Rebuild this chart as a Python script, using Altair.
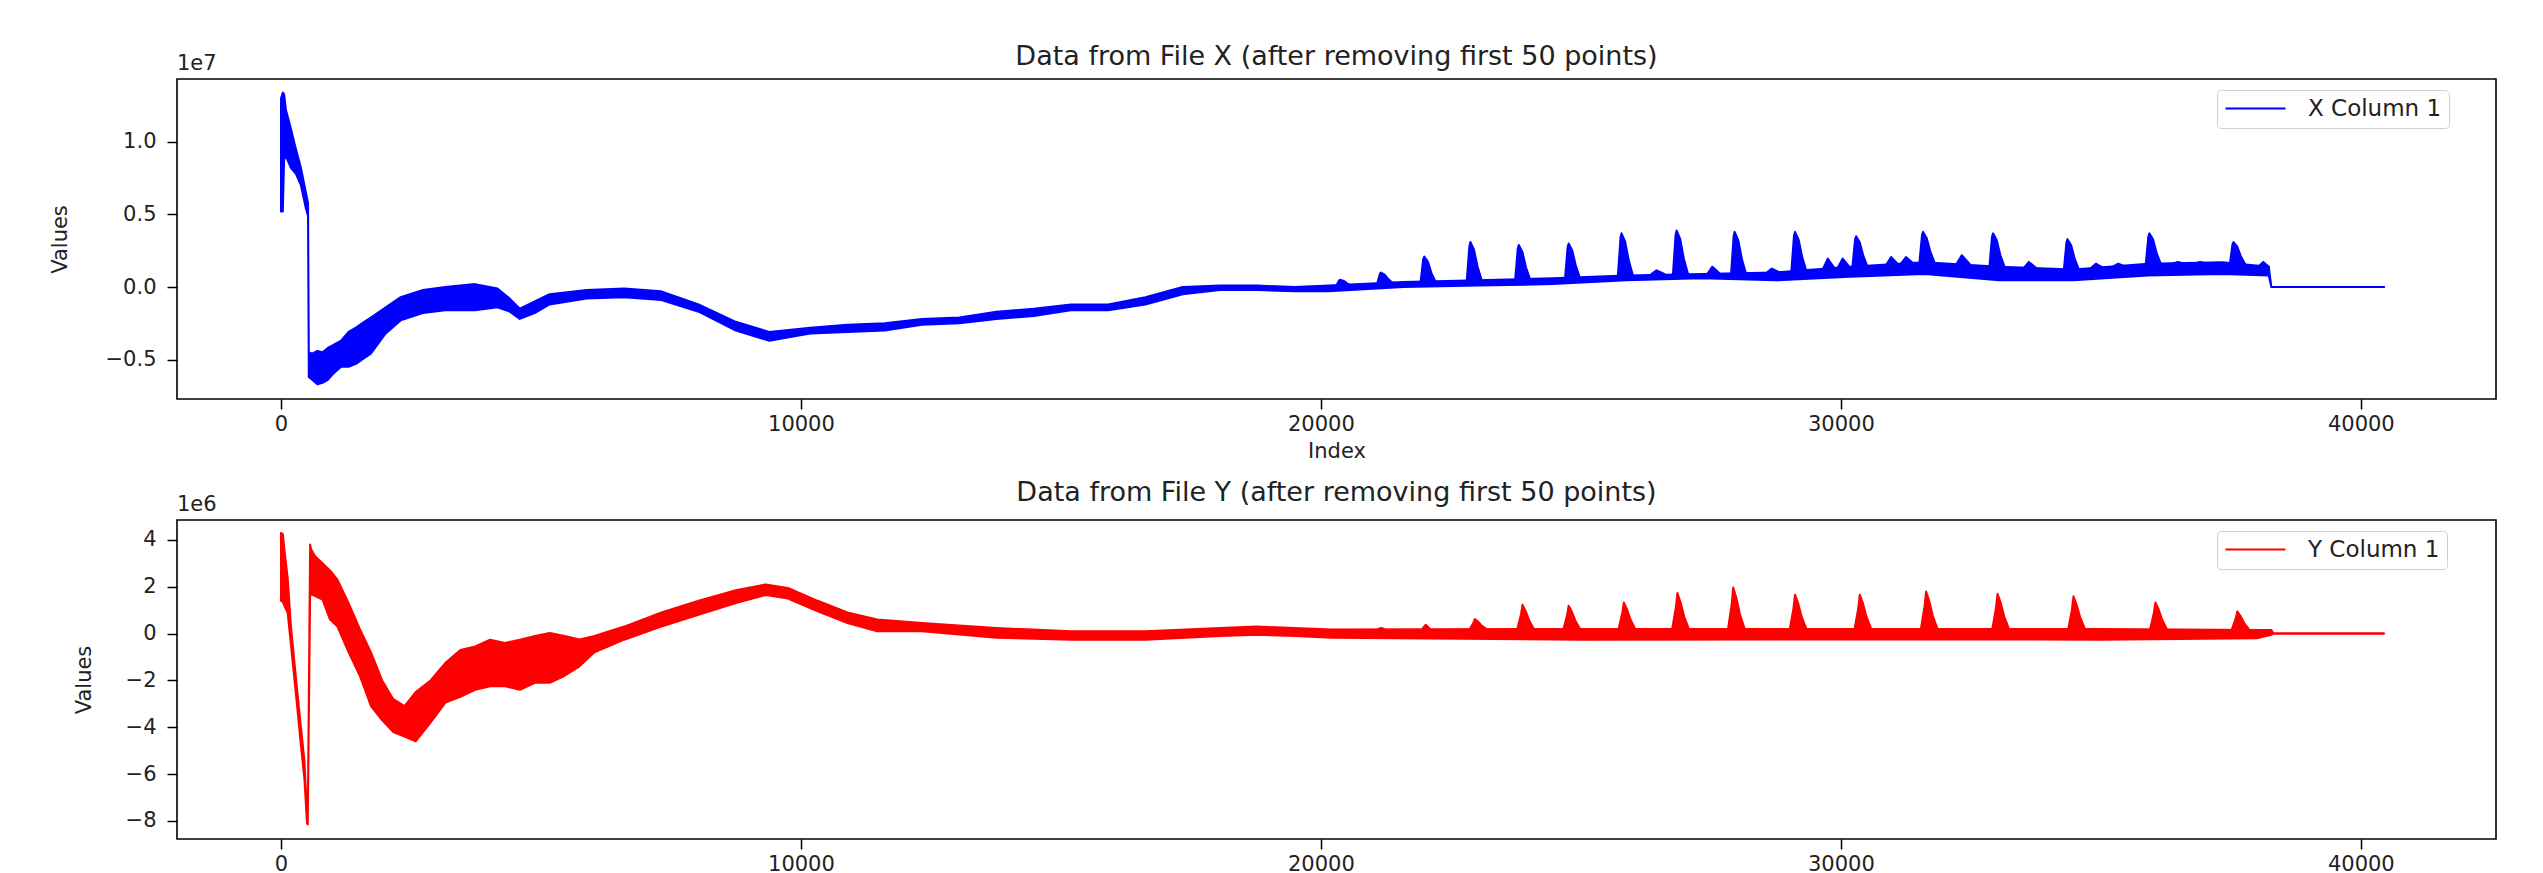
import altair as alt
import pandas as pd

FONT = "DejaVu Sans"

# ---------------- File X (values in units of 1e7) ----------------
X_IDX = [0, 35, 60, 96, 192, 288, 384, 480, 520, 535, 600, 700, 800, 900, 1000, 1155, 1300, 1441,
         1600, 1728, 2014, 2301, 2730, 3160, 3733, 4163, 4400, 4593, 4879, 5165, 5881, 6599, 7315,
         8031, 8747, 9391, 10179, 10894, 11612, 12328, 13044, 13760, 14476, 15192, 15908, 16624,
         17342, 18058, 18772, 19489, 20154, 21586, 23018, 24450, 25882, 27314, 28746, 30178, 31610,
         33042, 34474, 35906, 37338, 38230, 38280, 40450]
X_HI = [1.30, 1.34, 1.33, 1.22, 1.09, 0.95, 0.82, 0.65, 0.58, -0.45, -0.46, -0.44, -0.45, -0.42,
        -0.40, -0.37, -0.31, -0.28, -0.24, -0.21, -0.14, -0.07, -0.02, 0.00, 0.02, -0.01, -0.08,
        -0.15, -0.10, -0.05, -0.02, -0.01, -0.03, -0.12, -0.24, -0.31, -0.28, -0.26, -0.25, -0.22,
        -0.21, -0.17, -0.15, -0.12, -0.12, -0.07, 0.00, 0.01, 0.01, 0.00, 0.01, 0.035, 0.046, 0.06,
        0.08, 0.09, 0.10, 0.14, 0.17, 0.14, 0.12, 0.16, 0.17, 0.14, 0.0, 0.0]
X_LO = [0.52, 0.52, 0.88, 0.90, 0.82, 0.78, 0.70, 0.54, 0.49, -0.62, -0.64, -0.67, -0.66, -0.64,
        -0.60, -0.55, -0.55, -0.53, -0.49, -0.46, -0.32, -0.23, -0.18, -0.16, -0.16, -0.14, -0.17,
        -0.22, -0.18, -0.12, -0.08, -0.07, -0.09, -0.17, -0.30, -0.37, -0.32, -0.31, -0.30, -0.26,
        -0.25, -0.22, -0.20, -0.16, -0.16, -0.12, -0.05, -0.02, -0.02, -0.03, -0.03, 0.0, 0.01, 0.02,
        0.046, 0.06, 0.046, 0.07, 0.09, 0.046, 0.046, 0.08, 0.09, 0.08, 0.0, 0.0]

# periodic peaks of X: (index, value) points of each peak
X_SPIKES = [
    [(20299, .01), (20349, .046), (20369, .05), (20439, .042), (20509, .024), (20589, .01)],
    [(21086, .03), (21136, .093), (21156, .10), (21226, .086), (21296, .055), (21376, .03)],
    [(21917, .035), (21967, .19), (21987, .21), (22057, .175), (22127, .096), (22207, .035)],
    [(22805, .045), (22855, .28), (22875, .31), (22945, .257), (23015, .138), (23095, .045)],
    [(23736, .05), (23786, .266), (23806, .29), (23876, .242), (23946, .134), (24026, .05)],
    [(24695, .06), (24745, .276), (24765, .30), (24835, .252), (24905, .144), (24985, .06)],
    [(25712, .08), (25762, .341), (25782, .37), (25852, .312), (25922, .182), (26002, .08)],
    [(26771, .09), (26821, .36), (26841, .39), (26911, .33), (26981, .195), (27061, .09)],
    [(27888, .09), (27938, .351), (27958, .38), (28028, .322), (28098, .192), (28178, .09)],
    [(29048, .11), (29098, .353), (29118, .38), (29188, .326), (29258, .205), (29338, .11)],
    [(30223, .14), (30273, .329), (30293, .35), (30363, .308), (30433, .214), (30513, .14)],
    [(31511, .17), (31561, .359), (31581, .38), (31651, .338), (31721, .244), (31801, .17)],
    [(32857, .14), (32907, .347), (32927, .37), (32997, .324), (33067, .22), (33147, .14)],
    [(34289, .12), (34339, .309), (34359, .33), (34429, .288), (34499, .194), (34579, .12)],
    [(35864, .16), (35914, .349), (35934, .37), (36004, .328), (36074, .234), (36154, .16)],
    [(37482, .16), (37532, .295), (37552, .31), (37622, .28), (37692, .213), (37772, .16)],
    [(26355, 0.09), (26455, 0.115), (26605, 0.09)],
    [(27429, 0.09), (27529, 0.14), (27679, 0.09)],
    [(28574, 0.10), (28674, 0.127), (28824, 0.10)],
    [(29648, 0.12), (29748, 0.196), (29898, 0.12)],
    [(29935, 0.13), (30035, 0.196), (30185, 0.13)],
    [(30866, 0.15), (30966, 0.207), (31116, 0.15)],
    [(31152, 0.16), (31252, 0.207), (31402, 0.16)],
    [(32226, 0.16), (32326, 0.219), (32476, 0.16)],
    [(33515, 0.13), (33615, 0.173), (33765, 0.13)],
    [(34804, 0.13), (34904, 0.161), (35054, 0.13)],
    [(35233, 0.14), (35333, 0.161), (35483, 0.14)],
    [(36379, 0.16), (36479, 0.173), (36629, 0.16)],
    [(36808, 0.16), (36908, 0.173), (37058, 0.16)],
    [(38025, 0.14), (38125, 0.173), (38230, 0.14)],
]
X_TAIL_IDX = [38280, 40450]
X_TAIL_VAL = [0.0, 0.0]

# ---------------- File Y (values in units of 1e6) ----------------
Y_IDX = [0, 35, 80, 128, 192, 288, 384, 450, 500, 515, 560, 580, 656, 799, 943, 1086, 1301, 1516,
         1731, 1946, 2161, 2375, 2590, 2876, 3163, 3449, 3736, 4022, 4309, 4595, 4882, 5168, 5455,
         5741, 6028, 6600, 7316, 8032, 8748, 9321, 9750, 10322, 10895, 11468, 12328, 13760, 15192,
         16624, 18058, 18772, 19489, 20205, 25000, 30000, 35000, 38000, 38280, 38320, 40450]
Y_HI = [4.30, 4.25, 3.30, 2.40, 0.30, -1.90, -4.00, -5.40, -7.60, -7.80, 3.80, 3.60, 3.30, 3.00,
        2.70, 2.30, 1.30, 0.20, -0.80, -2.00, -2.80, -3.10, -2.50, -2.00, -1.25, -0.70, -0.55,
        -0.26, -0.40, -0.26, -0.10, 0.03, -0.10, -0.25, -0.10, 0.30, 0.90, 1.40, 1.85, 2.10, 1.95,
        1.40, 0.90, 0.60, 0.45, 0.24, 0.10, 0.10, 0.24, 0.30, 0.24, 0.17, 0.20, 0.20, 0.20, 0.15,
        0.15, 0.0, 0.0]
Y_LO = [1.40, 1.35, 1.10, 0.90, -0.50, -2.60, -4.80, -6.20, -8.10, -8.15, 1.60, 1.70, 1.60, 1.45,
        0.60, 0.30, -0.80, -1.80, -3.10, -3.70, -4.20, -4.40, -4.60, -3.80, -2.95, -2.70, -2.40,
        -2.25, -2.25, -2.40, -2.10, -2.10, -1.80, -1.40, -0.80, -0.26, 0.30, 0.80, 1.30, 1.65, 1.50,
        0.95, 0.45, 0.10, 0.10, -0.18, -0.26, -0.26, -0.10, -0.05, -0.10, -0.18, -0.26, -0.25,
        -0.26, -0.20, -0.05, 0.0, 0.0]

Y_SPIKES = [
    [(21100, 0.2), (21156, 0.24), (21220, 0.2)],
    [(21950, 0.2), (22016, 0.38), (22100, 0.2)],
    [(22861, .2), (22931, .45), (22961, .62), (23021, .515), (23091, .347), (23181, .2)],
    [(23777, .2), (23847, .82), (23877, 1.23), (23937, .97), (24007, .56), (24097, .2)],
    [(24665, .2), (24735, .79), (24765, 1.19), (24825, .94), (24895, .55), (24985, .2)],
    [(25725, .2), (25795, .88), (25825, 1.33), (25885, 1.05), (25955, .6), (26045, .2)],
    [(26756, .2), (26826, 1.12), (26856, 1.73), (26916, 1.35), (26986, .74), (27076, .2)],
    [(27830, .2), (27900, 1.26), (27930, 1.97), (27990, 1.53), (28060, .82), (28150, .2)],
    [(29018, .2), (29088, 1.08), (29118, 1.66), (29178, 1.3), (29248, .71), (29338, .2)],
    [(30264, .2), (30334, 1.08), (30364, 1.66), (30424, 1.3), (30494, .71), (30584, .2)],
    [(31539, .2), (31609, 1.16), (31639, 1.80), (31699, 1.4), (31769, .76), (31859, .2)],
    [(32913, .2), (32983, 1.1), (33013, 1.70), (33073, 1.33), (33143, .73), (33233, .2)],
    [(34374, .2), (34444, 1.03), (34474, 1.59), (34534, 1.24), (34604, .69), (34694, .2)],
    [(35949, .2), (36019, .88), (36049, 1.33), (36109, 1.05), (36179, .6), (36269, .2)],
    [(37524, .2), (37594, .65), (37624, .95), (37684, .76), (37754, .46), (37844, .2)],
]
Y_TAIL_IDX = [38320, 40450]
Y_TAIL_VAL = [0.0, 0.0]

X_TICKS = [0, 10000, 20000, 30000, 40000]
X_DOMAIN = [-2000, 42600]
X_YTICKS = [-0.5, 0.0, 0.5, 1.0]
Y_YTICKS = [-8, -6, -4, -2, 0, 2, 4]
X_YDOMAIN = [-0.772, 1.434]
Y_YDOMAIN = [-8.77, 4.85]

W = 2319


def spike_frame(spikes):
    rows = []
    for sid, pts in enumerate(spikes):
        base = pts[0][1]
        for i, v in pts:
            rows.append({"sid": sid, "idx": i, "val": v, "base": base})
    return pd.DataFrame(rows)


def panel(idx, hi, lo, spikes, tail_idx, tail_val, color, series, title, unit,
          yticks, yfmt, ydomain, height, xtitle, ytitle_pad, title_offset):
    band_df = pd.DataFrame({"idx": idx, "hi": hi, "lo": lo})
    spike_df = spike_frame(spikes)
    tail_df = pd.DataFrame({"idx": tail_idx, "val": tail_val, "series": [series] * len(tail_idx)})
    unit_df = pd.DataFrame({"t": [unit]})

    xaxis_kw = dict(values=X_TICKS, format="d", labelPadding=4, titlePadding=6)
    if xtitle:
        xaxis = alt.Axis(title=xtitle, **xaxis_kw)
    else:
        xaxis = alt.Axis(title=None, **xaxis_kw)
    yaxis = alt.Axis(title="Values", values=yticks, format=yfmt, labelPadding=11,
                     titlePadding=ytitle_pad)
    xs = alt.Scale(domain=X_DOMAIN, nice=False, zero=False)
    ys = alt.Scale(domain=ydomain, nice=False, zero=False)

    band = alt.Chart(band_df).mark_area(
        color=color, stroke=color, strokeWidth=2, strokeJoin="round", opacity=1
    ).encode(
        x=alt.X("idx:Q", scale=xs, axis=xaxis),
        y=alt.Y("hi:Q", scale=ys, axis=yaxis),
        y2="lo:Q",
    )
    spk = alt.Chart(spike_df).mark_area(
        color=color, stroke=color, strokeWidth=2, strokeJoin="round", opacity=1
    ).encode(
        x=alt.X("idx:Q", scale=xs, axis=xaxis),
        y=alt.Y("val:Q", scale=ys, axis=yaxis),
        y2="base:Q",
        detail="sid:N",
    )
    tail = alt.Chart(tail_df).mark_line(strokeWidth=2).encode(
        x=alt.X("idx:Q", scale=xs, axis=xaxis),
        y=alt.Y("val:Q", scale=ys, axis=yaxis),
        color=alt.Color(
            "series:N",
            scale=alt.Scale(domain=[series], range=[color]),
            legend=alt.Legend(
                title=None, orient="none", legendX=2040, legendY=11,
                symbolType="M-1,0H5", symbolSize=400, symbolStrokeWidth=2.2,
                labelFontSize=23, labelFont=FONT, labelColor="#222222", padding=7,
                strokeColor="#d0d0d0", fillColor="white", cornerRadius=4, labelOffset=61,
            ),
        ),
    )
    unit_txt = alt.Chart(unit_df).mark_text(
        align="left", baseline="bottom", fontSize=21, font=FONT, color="#222222"
    ).encode(text="t:N", x=alt.value(0), y=alt.value(-5))

    return alt.layer(band, spk, tail, unit_txt).properties(
        width=W, height=height,
        title=alt.TitleParams(title, fontSize=27, font=FONT, fontWeight="normal",
                              color="#222222", offset=title_offset, anchor="middle"),
    )


top = panel(X_IDX, X_HI, X_LO, X_SPIKES, X_TAIL_IDX, X_TAIL_VAL, "#0000ff", "X Column 1",
            "Data from File X (after removing first 50 points)", "1e7",
            X_YTICKS, ".1f", X_YDOMAIN, 320, "Index", 35, -18)
bottom = panel(Y_IDX, Y_HI, Y_LO, Y_SPIKES, Y_TAIL_IDX, Y_TAIL_VAL, "#ff0000", "Y Column 1",
               "Data from File Y (after removing first 50 points)", "1e6",
               Y_YTICKS, "d", Y_YDOMAIN, 319, None, 31, -13)

chart = alt.vconcat(top, bottom, spacing=16).resolve_scale(
    x="independent", y="independent", color="independent"
).resolve_legend(color="independent").properties(
    padding={"left": 40, "top": 34, "right": 10, "bottom": 5}, background="white"
).configure_view(
    stroke="black", strokeWidth=1.6
).configure_axis(
    domain=False, grid=False, tickColor="black", tickSize=10, tickWidth=1.5,
    labelColor="#222222", labelFont=FONT, labelFontSize=21,
    titleFont=FONT, titleFontSize=21, titleFontWeight="normal", titleColor="#222222",
)

chart.save("out.html", embed_options={"renderer": "svg", "actions": False})
